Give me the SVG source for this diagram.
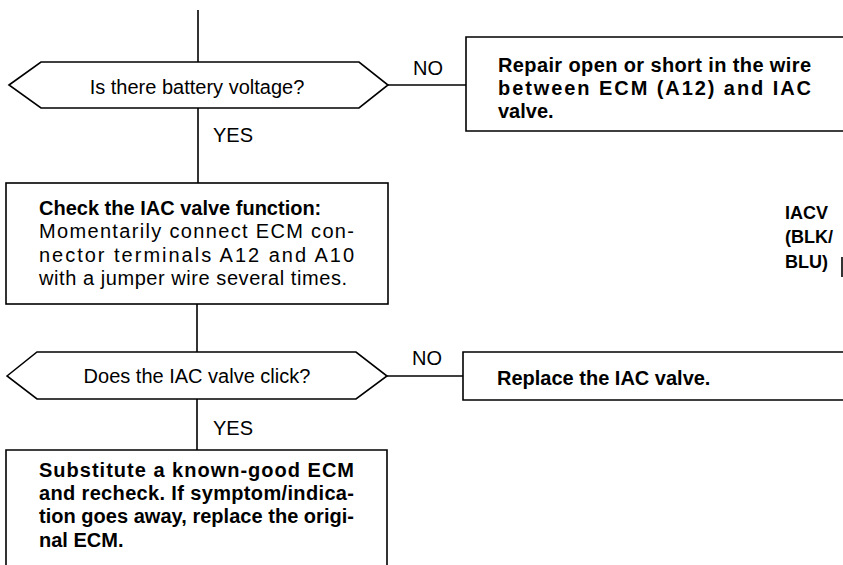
<svg xmlns="http://www.w3.org/2000/svg" width="843" height="565" viewBox="0 0 843 565">
<style>
.shape{fill:#fff;stroke:#000;stroke-width:1.6}
.line{fill:none;stroke:#000;stroke-width:1.6}
text{font-family:"Liberation Sans",Arial,sans-serif;font-size:20px;fill:#000}
.b{font-weight:bold}
.lbl{font-size:20px}
.side{font-weight:bold;font-size:18px}
</style>
<rect width="843" height="565" fill="#fff"/>
<g id="connectors">
<path class="line" d="M198 10V62"/>
<path class="line" d="M198 108V183"/>
<path class="line" d="M197 304V352"/>
<path class="line" d="M197 399V450"/>
<path class="line" d="M388 85H466"/>
<path class="line" d="M387 376H463"/>
<text class="lbl" x="413" y="75">NO</text>
<text class="lbl" x="213" y="142">YES</text>
<text class="lbl" x="412" y="365">NO</text>
<text class="lbl" x="213" y="435">YES</text>
</g>
<g id="q1">
<polygon class="shape" points="9,85 41,62 359,62 388,85 359,108 41,108"/>
<text x="197" y="94" text-anchor="middle">Is there battery voltage?</text>
</g>
<g id="repair">
<path class="shape" d="M850 37H466V131H850"/>
<text class="b" x="498" y="72" textLength="313" lengthAdjust="spacing">Repair open or short in the wire</text>
<text class="b" x="498" y="95" textLength="313" lengthAdjust="spacing">between ECM (A12) and IAC</text>
<text class="b" x="498" y="118">valve.</text>
</g>
<g id="check">
<rect class="shape" x="6" y="183" width="382" height="121"/>
<text class="b" x="39" y="215">Check the IAC valve function:</text>
<text x="39" y="238" textLength="315" lengthAdjust="spacing">Momentarily connect ECM con-</text>
<text x="39" y="262" textLength="315" lengthAdjust="spacing">nector terminals A12 and A10</text>
<text x="39" y="285" textLength="308" lengthAdjust="spacing">with a jumper wire several times.</text>
</g>
<g id="q2">
<polygon class="shape" points="7,376 37,352 356,352 387,376 356,399 37,399"/>
<text x="197" y="383" text-anchor="middle">Does the IAC valve click?</text>
</g>
<g id="replace">
<path class="shape" d="M850 352H463V400H850"/>
<text class="b" x="497" y="385">Replace the IAC valve.</text>
</g>
<g id="substitute">
<path class="shape" d="M6 570V450H387V570"/>
<text class="b" x="39" y="477" textLength="315" lengthAdjust="spacing">Substitute a known-good ECM</text>
<text class="b" x="39" y="500" textLength="315" lengthAdjust="spacing">and recheck. If symptom/indica-</text>
<text class="b" x="39" y="523" textLength="315" lengthAdjust="spacing">tion goes away, replace the origi-</text>
<text class="b" x="39" y="547">nal ECM.</text>
</g>
<g id="iacv">
<text class="side" x="785" y="219">IACV</text>
<text class="side" x="785" y="243">(BLK/</text>
<text class="side" x="785" y="268">BLU)</text>
<path class="line" d="M842 257V277"/>
</g>
</svg>
